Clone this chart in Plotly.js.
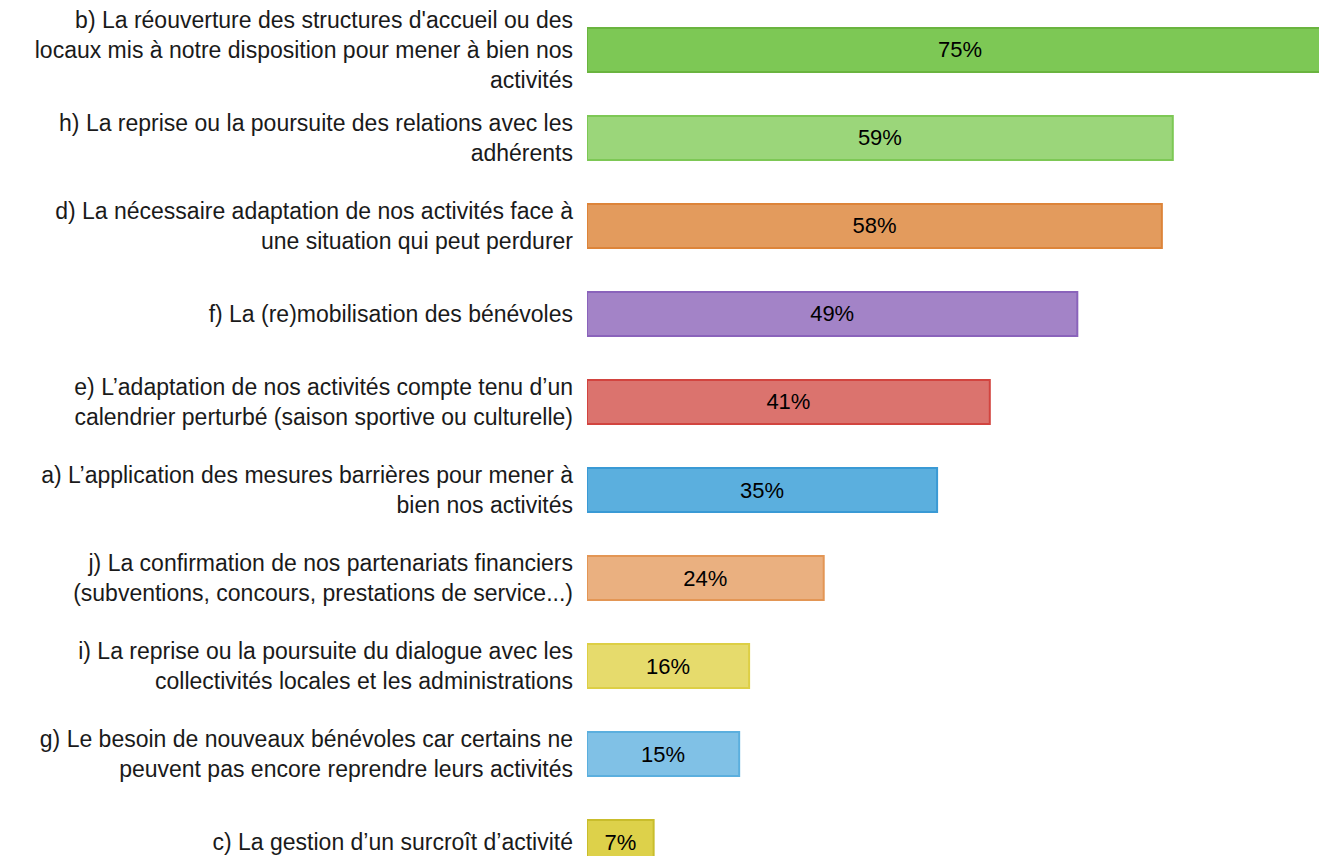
<!DOCTYPE html>
<html>
<head>
<meta charset="utf-8">
<script src="https://cdn.plot.ly/plotly-3.0.1.min.js"></script>
<style>html,body{margin:0;padding:0;background:#fff;}#chart{width:1319px;height:856px;}</style>
</head>
<body>
<div id="chart"></div>
<script>
var categories = [
  "b) La réouverture des structures d'accueil ou des<br>locaux mis à notre disposition pour mener à bien nos<br>activités",
  "h) La reprise ou la poursuite des relations avec les<br>adhérents",
  "d) La nécessaire adaptation de nos activités face à<br>une situation qui peut perdurer",
  "f) La (re)mobilisation des bénévoles",
  "e) L’adaptation de nos activités compte tenu d’un<br>calendrier perturbé (saison sportive ou culturelle)",
  "a) L’application des mesures barrières pour mener à<br>bien nos activités",
  "j) La confirmation de nos partenariats financiers<br>(subventions, concours, prestations de service...)",
  "i) La reprise ou la poursuite du dialogue avec les<br>collectivités locales et les administrations",
  "g) Le besoin de nouveaux bénévoles car certains ne<br>peuvent pas encore reprendre leurs activités",
  "c) La gestion d’un surcroît d’activité"
];
var values = [75, 58.9, 57.8, 49.3, 40.5, 35.2, 23.8, 16.3, 15.3, 6.7];
var fillColors = ["#7DC855", "#9BD67A", "#E39B5D", "#A383C7", "#DB736E", "#5BAFDE", "#EAB080", "#E6DB6C", "#80C1E6", "#DDD14A"];
var lineColors = ["#6AB43F", "#7DC855", "#DD8439", "#8A63BB", "#D2443F", "#3A9AD5", "#E39655", "#DDCF45", "#5BAFDE", "#C9BD2C"];

var trace = {
  type: "bar",
  orientation: "h",
  y: categories,
  x: values,
  width: 0.5,
  text: values.map(function(v){ return Math.round(v) + "%"; }),
  textposition: "inside",
  insidetextanchor: "middle",
  textangle: 0,
  textfont: {family: "Liberation Sans, Arial, sans-serif", size: 22, color: "#000"},
  marker: {color: fillColors, line: {color: lineColors, width: 2}},
  hoverinfo: "none"
};

var layout = {
  width: 1319,
  height: 856,
  margin: {l: 587, r: 0, t: 0, b: 0, pad: 0},
  paper_bgcolor: "#fff",
  plot_bgcolor: "#fff",
  showlegend: false,
  font: {family: "Liberation Sans, Arial, sans-serif", size: 23, color: "#1a1a1a"},
  xaxis: {range: [0, 73.6], visible: false, fixedrange: true},
  yaxis: {
    type: "category",
    range: [9.159, -0.568],
    showgrid: false,
    zeroline: false,
    showline: false,
    ticks: "",
    ticklabelstandoff: 13,
    tickfont: {family: "Liberation Sans, Arial, sans-serif", size: 23, color: "#1a1a1a"},
    fixedrange: true
  },
  uniformtext: {mode: false}
};

Plotly.newPlot("chart", [trace], layout, {staticPlot: true, displayModeBar: false});
</script>
</body>
</html>
